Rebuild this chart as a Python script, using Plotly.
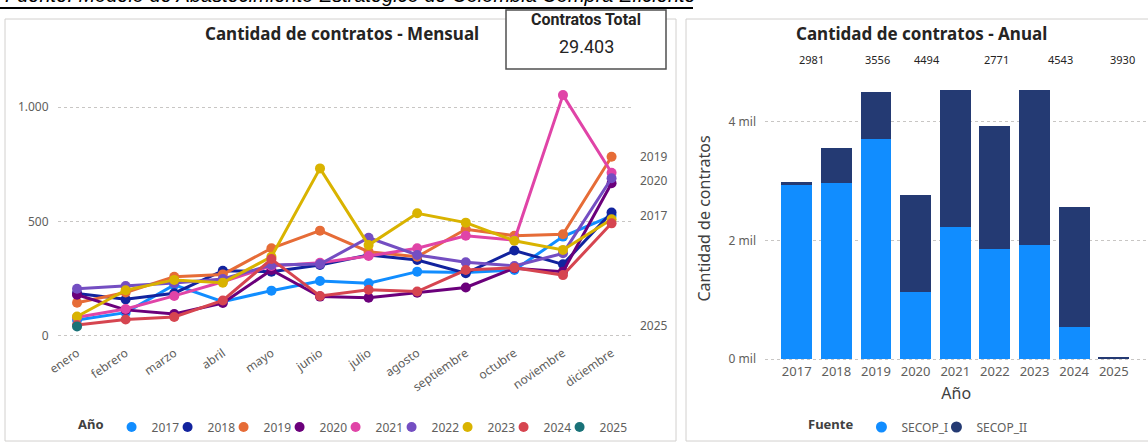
import plotly.graph_objects as go

W, H = 1148, 443

# ---------------- data ----------------
MESES = ["enero", "febrero", "marzo", "abril", "mayo", "junio", "julio",
         "agosto", "septiembre", "octubre", "noviembre", "diciembre"]
ANIOS = ["2017", "2018", "2019", "2020", "2021", "2022", "2023", "2024", "2025"]

V2017 = [70, 102, 223, 150, 198, 240, 230, 281, 277, 288, 434, 525]
V2018 = [186, 160, 187, 285, 281, 310, 354, 332, 274, 373, 313, 539]
V2019 = [145, 190, 259, 269, 383, 460, 368, 346, 466, 438, 444, 783]
V2020 = [180, 114, 96, 144, 288, 172, 167, 189, 212, 296, 281, 667]
V2021 = [82, 118, 175, 237, 306, 320, 349, 383, 438, 419, 1052, 713]
V2022 = [206, 218, 231, 249, 310, 314, 429, 354, 322, 306, 361, 689]
V2023 = [85, 200, 245, 233, 346, 732, 397, 536, 495, 416, 376, 510]
V2024 = [48, 72, 83, 155, 336, 175, 202, 194, 288, 298, 266, 492]
V2025 = [42]

MENSUAL = [V2017, V2018, V2019, V2020, V2021, V2022, V2023, V2024, V2025]

Y_TICKS_MENSUAL = [0, 500, 1000]
Y_TICKTEXT_MENSUAL = ["0", "500", "1.000"]

END_LABELS = ["2019", "2020", "2017", "2025"]
END_LABEL_VALUES = [783, 678, 525, 48]

FUENTES = ["SECOP_I", "SECOP_II"]
SECOP_I = [2934, 2973, 3710, 1135, 2226, 1855, 1928, 545, 0]
SECOP_II = [47, 583, 784, 1636, 2317, 2075, 2612, 2013, 42]

Y_TICKS_ANUAL = [0, 2000, 4000]
Y_TICKTEXT_ANUAL = ["0 mil", "2 mil", "4 mil"]

TOP_LABELS = ["2981", "3556", "4494", "2771", "4543", "3930"]

TOTAL_CONTRATOS = 29403

# ---------------- style ----------------
COLORES = ["#118DFF", "#12239E", "#E66C37", "#6B007B", "#E044A7",
           "#744EC2", "#D9B300", "#D64550", "#197278"]
COLOR_FUENTE = ["#118DFF", "#243A73"]
LEGEND2_WIDTHS = [30, 60]
TOP_LABEL_X_PX = [811, 877, 927, 996, 1060, 1122]
FONT = "Segoe UI, Noto Sans, sans-serif"
NARROW = "Liberation Sans Narrow, Arial Narrow, Roboto, sans-serif"
GRIS = "#605E5C"
OSCURO = "#252423"


def px(x):
    return x / W


def py(y):
    return 1 - y / H


fig = go.Figure()

# ---- monthly lines ----
for i, (anio, vals, col) in enumerate(zip(ANIOS, MENSUAL, COLORES)):
    fig.add_trace(go.Scatter(
        x=MESES[:len(vals)], y=vals, mode="lines+markers", name=anio,
        line=dict(color=col, width=3), marker=dict(color=col, size=10),
        xaxis="x", yaxis="y", showlegend=False, hoverinfo="x+y+name"))
    fig.add_trace(go.Scatter(
        x=[None], y=[None], mode="markers", name=anio,
        marker=dict(color=col, size=10, symbol="circle"),
        xaxis="x", yaxis="y", legend="legend", showlegend=True,
        legendwidth=(30 if i == len(ANIOS) - 1 else 11)))

# ---- annual stacked bars ----
for nombre, vals, col, lw in zip(FUENTES, [SECOP_I, SECOP_II], COLOR_FUENTE, LEGEND2_WIDTHS):
    fig.add_trace(go.Bar(
        x=ANIOS, y=vals, name=nombre, marker=dict(color=col, line=dict(width=0)),
        xaxis="x2", yaxis="y2", showlegend=False))
    fig.add_trace(go.Scatter(
        x=[None], y=[None], mode="markers", name=nombre,
        marker=dict(color=col, size=11, symbol="circle"),
        xaxis="x2", yaxis="y2", legend="legend2", showlegend=True, legendwidth=lw))

total_txt = f"{TOTAL_CONTRATOS:,}".replace(",", ".")


def ann(text, x, y, size, color, family=FONT, xanchor="center", yref="paper"):
    return dict(text=text, xref="paper", yref=yref, x=x, y=y,
                xanchor=xanchor, yanchor="middle", showarrow=False,
                font=dict(family=family, size=size, color=color))


annotations = [
    ann("<i>Fuente: Modelo de Abastecimiento Estratégico de Colombia Compra Eficiente</i>",
        px(3), py(-5), 20, "#000000", family="Liberation Sans, Arial", xanchor="left"),
    ann("<b>Cantidad de contratos - Mensual</b>", px(342), py(33), 17, OSCURO),
    ann("<b>Cantidad de contratos - Anual</b>", px(921), py(33), 17, OSCURO),
    ann("<b>Contratos Total</b>", px(586), py(20), 16, OSCURO, family=NARROW),
    ann(total_txt, px(586), py(47), 18, OSCURO, family=NARROW),
]
for lab, v in zip(END_LABELS, END_LABEL_VALUES):
    annotations.append(ann(lab, px(638), v, 12, GRIS, xanchor="left", yref="y"))
for lab, xx in zip(TOP_LABELS, TOP_LABEL_X_PX):
    annotations.append(ann(lab, px(xx), py(60), 11, OSCURO))

shapes = [
    # panels
    dict(type="rect", xref="paper", yref="paper", x0=px(5), x1=px(676), y0=py(19), y1=py(441),
         line=dict(color="#D2D0CE", width=1), layer="below"),
    dict(type="rect", xref="paper", yref="paper", x0=px(686), x1=px(1152), y0=py(19), y1=py(441),
         line=dict(color="#D2D0CE", width=1), layer="below"),
    # caption underline
    dict(type="line", xref="paper", yref="paper", x0=px(0), x1=px(693), y0=py(8), y1=py(8),
         line=dict(color="#000000", width=2)),
    # card
    dict(type="rect", xref="paper", yref="paper", x0=px(506), x1=px(666), y0=py(10), y1=py(69),
         line=dict(color="#505050", width=1.5), fillcolor="white"),
]

fig.update_layout(
    width=W, height=H,
    margin=dict(l=0, r=0, t=0, b=0, autoexpand=False),
    paper_bgcolor="white", plot_bgcolor="white",
    font=dict(family=FONT, size=12, color=GRIS),
    barmode="stack", bargap=0.22,
    xaxis=dict(domain=[px(57.6), px(631)], type="category", range=[-0.4, 11.4],
               showgrid=False, showline=False, zeroline=False, ticks="", automargin=False,
               tickangle=-35, tickfont=dict(size=12, color=GRIS), anchor="y"),
    yaxis=dict(domain=[py(343), py(50)], range=[-30.6, 1249],
               tickvals=Y_TICKS_MENSUAL, ticktext=Y_TICKTEXT_MENSUAL, automargin=False,
               showgrid=True, gridcolor="#C8C6C4", griddash="dot", gridwidth=1,
               zeroline=False, showline=False, ticks="", ticklabelstandoff=8,
               tickfont=dict(size=12, color=GRIS), anchor="x"),
    xaxis2=dict(domain=[px(765), px(1147.5)], type="category", range=[-0.8, 8.85],
                showgrid=False, showline=False, zeroline=False, ticks="", automargin=False,
                tickfont=dict(size=13, color=GRIS), anchor="y2",
                title=dict(text="Año", font=dict(size=16, color="#404040"), standoff=8)),
    yaxis2=dict(domain=[py(362), py(75)], range=[-50.6, 4789],
                tickvals=Y_TICKS_ANUAL, ticktext=Y_TICKTEXT_ANUAL, automargin=False,
                showgrid=True, gridcolor="#C8C6C4", griddash="dot", gridwidth=1,
                zeroline=False, showline=False, ticks="", ticklabelstandoff=8,
                tickfont=dict(size=12, color=GRIS), anchor="x2",
                title=dict(text="Cantidad de contratos", font=dict(size=16, color="#404040"), standoff=13)),
    legend=dict(orientation="h", x=px(76), xanchor="left", y=py(427), yanchor="middle",
                traceorder="normal",
                title=dict(text="<b>Año</b>", font=dict(size=13, color="#404040")),
                font=dict(size=12, color=GRIS), itemwidth=30,
                bgcolor="rgba(0,0,0,0)"),
    legend2=dict(orientation="h", x=px(806), xanchor="left", y=py(427), yanchor="middle",
                 traceorder="normal",
                 title=dict(text="<b>Fuente</b>", font=dict(size=13, color="#404040")),
                 font=dict(size=12, color=GRIS), itemwidth=30,
                 bgcolor="rgba(0,0,0,0)"),
    annotations=annotations,
    shapes=shapes,
)

fig.write_html("out.html", config={"displayModeBar": False},
               post_script="document.body.style.margin='0';")
